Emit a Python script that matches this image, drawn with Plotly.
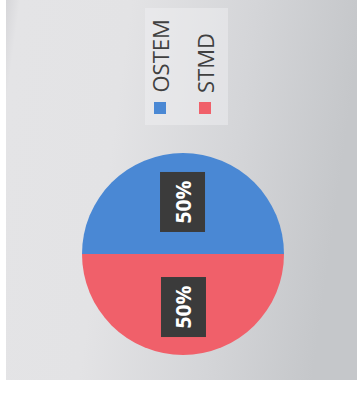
import base64
import math
import plotly.graph_objects as go

# ---- data ----
categories = ["OSTEM", "STMD"]
values = [50, 50]
colors = ["#4A88D4", "#F0606A"]

W, H = 357, 396

# ---- background gradient (svg data uri) ----
svg = (
    '<svg xmlns="http://www.w3.org/2000/svg" width="351" height="380" preserveAspectRatio="none">'
    '<defs><linearGradient id="g" x1="0" y1="0" x2="1" y2="0.15">'
    '<stop offset="0" stop-color="#d6d6d9"/>'
    '<stop offset="0.04" stop-color="#e4e4e6"/>'
    '<stop offset="0.35" stop-color="#e3e3e5"/>'
    '<stop offset="0.7" stop-color="#d4d5d8"/>'
    '<stop offset="1" stop-color="#c5c7ca"/>'
    '</linearGradient></defs>'
    '<rect width="351" height="380" fill="url(#g)"/></svg>'
)
bg_uri = "data:image/svg+xml;base64," + base64.b64encode(svg.encode()).decode()

# pie geometry (pixels)
cx, cy, r = 183, 254, 101
dom_x = [(cx - r) / W, (cx + r) / W]
dom_y = [1 - (cy + r) / H, 1 - (cy - r) / H]

fig = go.Figure()
fig.add_trace(go.Pie(
    labels=categories, values=values, sort=False, direction="clockwise",
    rotation=-90, marker=dict(colors=colors, line=dict(width=0)),
    textinfo="none", hoverinfo="label+percent", showlegend=False,
    domain=dict(x=dom_x, y=dom_y),
))

annotations = []
total = sum(values)
cum = 0
for cat, v in zip(categories, values):
    mid = 180 - (cum + v / 2) / total * 360
    cum += v
    px = cx + 0.52 * r * math.cos(math.radians(mid))
    py = cy - 0.52 * r * math.sin(math.radians(mid))
    annotations.append(dict(
        x=px / W, y=1 - py / H, xref="paper", yref="paper",
        text="<b>%d%%</b>" % round(v / total * 100), showarrow=False,
        textangle=-90, bgcolor="#3b3b3b", borderpad=8,
        font=dict(family="Open Sans", size=21, color="white"),
        xanchor="center", yanchor="middle",
    ))

# legend built from rotated text
leg_x = [160, 205]
shapes = [dict(type="rect", xref="paper", yref="paper",
               x0=145 / W, x1=228 / W, y0=1 - 125 / H, y1=1 - 8 / H,
               fillcolor="rgba(242,242,244,0.45)", line=dict(width=0), layer="below")]
for cat, col, lx in zip(categories, colors, leg_x):
    shapes.append(dict(type="rect", xref="paper", yref="paper",
                       x0=(lx - 6) / W, x1=(lx + 6) / W, y0=1 - 114 / H, y1=1 - 102 / H,
                       fillcolor=col, line=dict(width=0)))
    annotations.append(dict(
        x=lx / W, y=1 - 95 / H, xref="paper", yref="paper", text=cat,
        showarrow=False, textangle=-90, xanchor="center", yanchor="bottom",
        font=dict(family="Open Sans", size=22, color="#404040"),
    ))

fig.update_layout(
    width=W, height=H, margin=dict(l=0, r=0, t=0, b=0),
    paper_bgcolor="white", plot_bgcolor="rgba(0,0,0,0)",
    annotations=annotations, shapes=shapes,
    images=[dict(source=bg_uri, xref="paper", yref="paper", x=6 / W, y=1,
                 sizex=(W - 6) / W, sizey=380 / H, sizing="stretch",
                 xanchor="left", yanchor="top", layer="below")],
)
fig.write_html("out.html")
